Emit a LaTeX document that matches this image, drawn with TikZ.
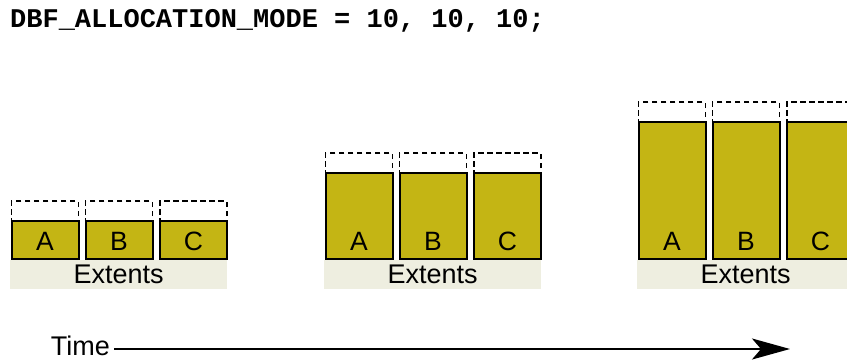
\documentclass[tikz,border=0pt]{standalone}
\usepackage{fontspec}
\setmainfont{Liberation Sans}
\setmonofont{Liberation Mono}
\usetikzlibrary{arrows.meta}
\definecolor{extfill}{RGB}{196,181,20}
\definecolor{bandfill}{RGB}{238,238,224}
\tikzstyle{band} = [fill=bandfill, inner sep=0pt, minimum width=217pt, minimum height=29pt, anchor=north west, font=\fontsize{27}{29}\selectfont]
\tikzstyle{blk} = [draw=black, line width=2pt, fill=extfill, inner sep=0pt, minimum width=67pt, anchor=south west]
\tikzstyle{spare} = [draw=black, line width=1.6pt, dash pattern=on 5.5pt off 3.5pt, inner sep=0pt, minimum width=67pt, minimum height=20pt, anchor=south west]
\tikzstyle{lbl} = [inner sep=0pt, font=\fontsize{26.5}{28}\selectfont]

\begin{document}
\begin{tikzpicture}[x=1pt,y=-1pt]
        \useasboundingbox (0,0) rectangle (847,362);
        \node[anchor=west, inner sep=0pt, font=\ttfamily\bfseries\fontsize{27}{29}\selectfont](title) at (10,21){DBF\_ALLOCATION\_MODE = 10, 10, 10;};
        \foreach \g/\x/\h in {1/10/38, 2/324/86, 3/637/137}{
          \node[band](e\g) at (\x,260){Extents};
          \foreach \l/\o in {A/0.5, B/74.5, C/149}{
            \node[spare](s\g\l) at (\x+\o,260-\h){};
            \node[blk, minimum height=\h pt](\g\l) at (\x+\o,260){};
            \node[lbl](t\g\l) at ([yshift=19pt]\g\l.south){\l};
          }
        }
        \node[anchor=east, inner sep=0pt, font=\fontsize{27}{29}\selectfont](time) at (110,346){Time};
        \coordinate (tend) at (790,349);
        \draw[line width=2pt, -{Stealth[length=38pt, width=21pt, inset=9pt]}]([xshift=4pt,yshift=-3pt]time.east)--(tend);
      \end{tikzpicture}
\end{document}
